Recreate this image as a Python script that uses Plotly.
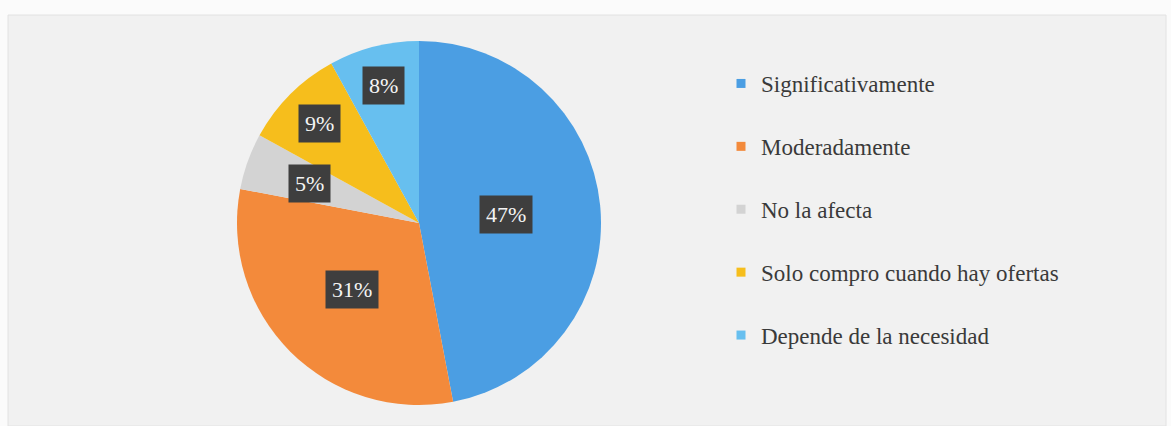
import math
import plotly.graph_objects as go

categories = ["Significativamente", "Moderadamente", "No la afecta",
              "Solo compro cuando hay ofertas", "Depende de la necesidad"]
values = [47, 31, 5, 9, 8]
colors = ["#4B9EE3", "#F38A3B", "#D3D3D3", "#F6BE1C", "#67BFEF"]
label_radius = [0.48, 0.52, 0.64, 0.77, 0.78]  # style: radial placement of labels

W, H = 1171, 426
dom_x = [237 / W, 601 / W]
dom_y = [21 / H, 385 / H]

fig = go.Figure()
fig.add_trace(go.Pie(
    labels=categories, values=values, sort=False, direction="clockwise",
    rotation=0, marker=dict(colors=colors, line=dict(width=0)),
    textinfo="none", showlegend=False, hoverinfo="label+percent",
    domain=dict(x=dom_x, y=dom_y),
))

# legend entries
for c, col in zip(categories, colors):
    fig.add_trace(go.Scatter(
        x=[None], y=[None], mode="markers", name=c, legendgroup=c,
        marker=dict(symbol="square", size=9, color=col),
    ))

# data labels
total = sum(values)
cx = (dom_x[0] + dom_x[1]) / 2
cy = (dom_y[0] + dom_y[1]) / 2
Rpx = min((dom_x[1] - dom_x[0]) * W, (dom_y[1] - dom_y[0]) * H) / 2
cum = 0
annotations = []
for v, f in zip(values, label_radius):
    mid = (cum + v / 2) / total * 2 * math.pi
    cum += v
    ax = cx + f * Rpx * math.sin(mid) / W
    ay = cy + f * Rpx * math.cos(mid) / H
    annotations.append(dict(
        x=ax, y=ay, xref="paper", yref="paper", showarrow=False,
        xanchor="center", yanchor="middle",
        text=f"{round(v / total * 100)}%",
        font=dict(family="Liberation Serif", size=22, color="#F4F4F4"),
        bgcolor="#3E3E3E", borderpad=6,
    ))

fig.update_layout(
    width=W, height=H, margin=dict(l=0, r=0, t=0, b=0),
    paper_bgcolor="#FBFBFB", plot_bgcolor="rgba(0,0,0,0)",
    xaxis=dict(visible=False), yaxis=dict(visible=False),
    annotations=annotations,
    shapes=[dict(type="rect", xref="paper", yref="paper",
                 x0=8 / W, x1=1166 / W, y0=0, y1=1 - 15 / H,
                 fillcolor="#F1F1F1", line=dict(color="#E2E2E2", width=1),
                 layer="below")],
    legend=dict(x=721 / W, y=1 - 62 / H, xanchor="left", yanchor="top",
                font=dict(family="Liberation Serif", size=23, color="#3A3A3A"),
                tracegroupgap=30, bgcolor="rgba(0,0,0,0)", itemwidth=30),
)

fig.write_html("out.html")
